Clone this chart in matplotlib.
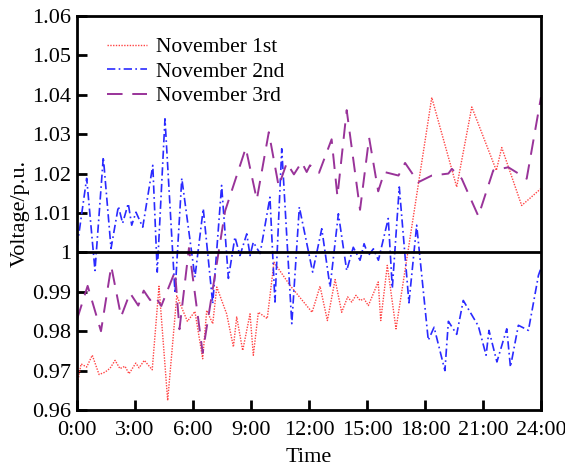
import matplotlib
matplotlib.use("Agg")
import matplotlib.pyplot as plt

# hours of the day and voltage (p.u.)
red_t = [0.0, 0.21, 0.50, 0.79, 1.14, 1.45, 1.71, 1.97, 2.22, 2.48, 2.69, 3.04, 3.21, 3.48,
         3.89, 4.24, 4.69, 5.16, 5.71, 6.10, 6.50, 6.71, 7.02, 7.23, 7.74, 8.09, 8.26, 8.57,
         8.95, 9.12, 9.38, 9.84, 10.19, 11.02, 12.16, 12.57, 12.95, 13.35, 13.69, 14.00,
         14.21, 14.43, 14.64, 14.85, 15.07, 15.58, 15.71, 16.05, 16.50, 18.35, 19.64, 20.42,
         21.69, 21.97, 23.00, 24.00]
red_v = [0.9662, 0.9717, 0.9709, 0.9739, 0.9690, 0.9696, 0.9706, 0.9726, 0.9705, 0.9711,
         0.9692, 0.9719, 0.9707, 0.9726, 0.9702, 0.9914, 0.9624, 0.9890, 0.9825, 0.9850,
         0.9730, 0.9853, 0.9819, 0.9912, 0.9844, 0.9760, 0.9836, 0.9751, 0.9844, 0.9739,
         0.9848, 0.9832, 0.9975, 0.9916, 0.9848, 0.9914, 0.9827, 0.9931, 0.9848, 0.9887,
         0.9874, 0.9891, 0.9878, 0.9882, 0.9865, 0.9925, 0.9827, 0.9967, 0.9806, 1.0393,
         1.0166, 1.0369, 1.0208, 1.0266, 1.0119, 1.0162]

blue_t = [0.0, 0.50, 0.93, 1.36, 1.76, 2.14, 2.36, 2.65, 2.83, 3.05, 3.40, 3.92, 4.15, 4.55,
          5.07, 5.42, 6.10, 6.53, 7.02, 7.48, 7.83, 8.17, 8.43, 8.78, 8.95, 9.12, 9.47, 9.98,
          10.24, 10.59, 11.11, 11.50, 12.19, 12.66, 13.09, 13.52, 13.95, 14.29, 14.64, 14.85,
          15.07, 15.33, 15.59, 16.10, 16.31, 16.67, 17.17, 17.57, 18.17, 18.47, 19.03, 19.21,
          19.64, 19.98, 20.76, 21.16, 21.31, 21.72, 22.23, 22.42, 22.83, 23.35, 23.87, 24.0]
blue_v = [1.0013, 1.0188, 0.9954, 1.0242, 1.0010, 1.0117, 1.0074, 1.0124, 1.0069, 1.0102,
          1.0064, 1.0221, 0.9950, 1.0339, 0.9896, 1.0188, 0.9937, 1.0111, 0.9870, 1.0170,
          0.9934, 1.0039, 0.9992, 1.0047, 0.9992, 1.0026, 0.9997, 1.0140, 0.9874, 1.0263,
          0.9819, 1.0115, 0.9950, 1.0060, 0.9912, 1.0098, 0.9954, 1.0013, 0.9980, 1.0022,
          0.9992, 1.0009, 0.9980, 1.0086, 0.9909, 1.0166, 0.9872, 1.0069, 0.9777, 0.9810,
          0.9700, 0.9825, 0.9792, 0.9878, 0.9813, 0.9739, 0.9802, 0.9722, 0.9806, 0.9709,
          0.9815, 0.9802, 0.9942, 0.9960]

purple_t = [0.0, 0.55, 1.24, 1.77, 2.28, 2.74, 3.17, 3.45, 3.78, 4.03, 4.36, 5.07, 5.30, 5.79,
            6.50, 7.66, 8.73, 9.30, 9.92, 10.43, 10.85, 11.22, 11.62, 11.88, 12.05, 12.52,
            13.17, 13.47, 13.95, 14.64, 15.11, 15.58, 15.90, 16.63, 16.97, 17.65, 18.35,
            18.87, 19.21, 19.39, 19.90, 20.76, 21.53, 22.31, 23.26, 24.0]
purple_v = [0.9830, 0.9915, 0.9800, 0.9965, 0.9837, 0.9897, 0.9865, 0.9903, 0.9879, 0.9889,
            0.9864, 0.9952, 0.9805, 1.0011, 0.9745, 1.0105, 1.0265, 1.0134, 1.0305, 1.0168,
            1.0227, 1.0198, 1.0229, 1.0204, 1.0221, 1.0202, 1.0287, 1.0142, 1.0361, 1.0108,
            1.0291, 1.0155, 1.0204, 1.0195, 1.0227, 1.0178, 1.0195, 1.0198, 1.0200, 1.0212,
            1.0187, 1.0092, 1.0208, 1.0216, 1.0187, 1.0394]

labels = ['November 1st', 'November 2nd', 'November 3rd']
x_ticks = [0, 3, 6, 9, 12, 15, 18, 21, 24]
x_ticklabels = ['0:00', '3:00', '6:00', '9:00', '12:00', '15:00', '18:00', '21:00', '24:00']
y_ticks = [0.96, 0.97, 0.98, 0.99, 1.00, 1.01, 1.02, 1.03, 1.04, 1.05, 1.06]
y_ticklabels = ['0.96', '0.97', '0.98', '0.99', '1', '1.01', '1.02', '1.03', '1.04', '1.05', '1.06']

plt.rcParams['font.family'] = ['Liberation Serif', 'DejaVu Serif']
plt.rcParams['font.size'] = 16

fig = plt.figure(figsize=(5.65, 4.66), dpi=100)
ax = fig.add_axes([0.1363, 0.1202, 0.8212, 0.8455])

ax.plot(red_t, red_v, color='#ff4444', lw=1.0, linestyle=(0, (1, 1)), label=labels[0])
ax.plot(blue_t, blue_v, color='#2a2aff', lw=1.2, linestyle=(0, (5, 2, 1, 2)), label=labels[1])
ax.plot(purple_t, purple_v, color='#993399', lw=1.4, linestyle=(0, (8, 5)), label=labels[2])
ax.axhline(1.0, color='black', lw=2)

ax.set_xlim(0, 24)
ax.set_ylim(0.96, 1.06)
ax.set_xticks(x_ticks)
ax.set_xticklabels(x_ticklabels)
ax.set_yticks(y_ticks)
ax.set_yticklabels(y_ticklabels)
ax.tick_params(direction='in', length=7, width=2)
ax.tick_params(axis='x', pad=8)
ax.tick_params(axis='y', pad=4)
for s in ax.spines.values():
    s.set_linewidth(2)

ax.set_xlabel('Time', labelpad=6)
ax.set_ylabel('Voltage/p.u.', labelpad=2)

ax.legend(loc='upper left', bbox_to_anchor=(0.022, 0.995), frameon=False,
          handlelength=1.9, handletextpad=0.4, labelspacing=0.2, fontsize=15.5)

fig.savefig('out.png', dpi=100)
